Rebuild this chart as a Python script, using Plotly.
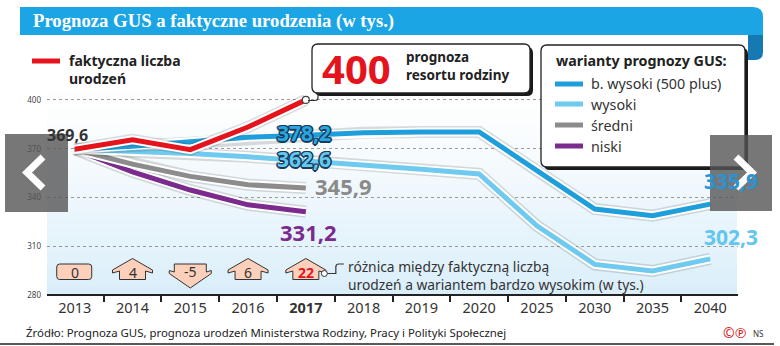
import plotly.graph_objects as go

# ---------------- data ----------------
years = ["2013", "2014", "2015", "2016", "2017", "2018", "2019", "2020", "2025", "2030", "2035", "2040"]
year_labels = ["2013", "2014", "2015", "2016", "<b>2017</b>", "2018", "2019", "2020", "2025", "2030", "2035", "2040"]
faktyczna = [369.6, 375.5, 369.4, 383.3, 400.0]
b_wysoki = [369.6, 371.5, 374.2, 377.0, 378.2, 379.8, 380.3, 380.3, 356.5, 332.9, 328.8, 335.9]
wysoki = [369.6, 368.6, 367.0, 365.0, 362.6, 360.0, 357.4, 354.5, 322.6, 298.9, 294.8, 302.3]
sredni = [369.6, 360.5, 353.0, 347.8, 345.9]
niski = [369.6, 355.8, 344.6, 335.5, 331.2]
roznica = [0, 4, -5, 6, 22]
y_ticks = [280, 310, 340, 370, 400]
variant_names = ["b. wysoki (500 plus)", "wysoki", "średni", "niski"]
prognoza_resortu = 400

# ---------------- styles ----------------
C_RED = "#e5131c"
C_BW = "#1e9fdc"
C_W = "#6ecbef"
C_S = "#8c8c8c"
C_N = "#7b2a8d"
FONT = "Noto Sans"

W, H = 780, 346
ML, MR, MT, MB = 47, 42, 95, 46
PW, PH = W - ML - MR, H - MT - MB
YR = [277, 403]
XR = [-0.48, 11.48]


def X(px):
    return (px - ML) / PW


def Y(py):
    return (H - MB - py) / PH


def cat_px(i):
    return ML + (i - XR[0]) * PW / (XR[1] - XR[0])


def path(pts):
    s = ""
    for p in pts:
        if p[0] == "Z":
            s += " Z"
        elif p[0] == "Q":
            s += f" Q {X(p[1])},{Y(p[2])} {X(p[3])},{Y(p[4])}"
        else:
            s += f" {p[0]} {X(p[1])},{Y(p[2])}"
    return s.strip()


def rrect(x0, y0, x1, y1, r):
    return path([("M", x0 + r, y0), ("L", x1 - r, y0), ("Q", x1, y0, x1, y0 + r),
                 ("L", x1, y1 - r), ("Q", x1, y1, x1 - r, y1), ("L", x0 + r, y1),
                 ("Q", x0, y1, x0, y1 - r), ("L", x0, y0 + r), ("Q", x0, y0, x0 + r, y0), ("Z",)])


shapes = []
annots = []


def shp(d, fill=None, line_color=None, width=0, layer="above"):
    shapes.append(dict(type="path", path=d, xref="paper", yref="paper",
                       fillcolor=fill if fill else "rgba(0,0,0,0)",
                       line=dict(color=line_color if line_color else "rgba(0,0,0,0)", width=width),
                       layer=layer))


def txt(text, px, py, size=13, color="#333", bold=False, xanchor="left", family=FONT, **kw):
    annots.append(dict(text=f"<b>{text}</b>" if bold else text, x=X(px), y=Y(py), xref="paper", yref="paper",
                       xanchor=xanchor, yanchor="middle", showarrow=False, align="left",
                       font=dict(size=size, color=color, family=family), **kw))


fig = go.Figure()

# background gradient
N = 24
top, bot = 92, 295.5
for k in range(N):
    y0 = top + (bot - top) * k / N
    y1 = top + (bot - top) * (k + 1) / N
    t = (k + 0.5) / N
    t = t ** 1.3
    r = int(255 + (217 - 255) * t)
    g = int(255 + (238 - 255) * t)
    b = int(255 + (250 - 255) * t)
    shapes.append(dict(type="rect", xref="paper", yref="paper", x0=X(47), x1=X(737), y0=Y(y1), y1=Y(y0) + 0.002,
                       fillcolor=f"rgb({r},{g},{b})", line=dict(width=0), layer="below"))


def add_line(xs, ys, color, w=4.5):
    fig.add_trace(go.Scatter(x=xs, y=ys, mode="lines", line=dict(color="rgba(40,40,40,0.16)", width=w + 7),
                             hoverinfo="skip", showlegend=False))
    fig.add_trace(go.Scatter(x=xs, y=ys, mode="lines", line=dict(color="white", width=w + 4),
                             hoverinfo="skip", showlegend=False))
    fig.add_trace(go.Scatter(x=xs, y=ys, mode="lines", line=dict(color=color, width=w),
                             hoverinfo="skip", showlegend=False))


add_line(years[:len(niski)], niski, C_N, 5)
add_line(years[:len(sredni)], sredni, C_S, 5)
add_line(years, wysoki, C_W, 5)
add_line(years, b_wysoki, C_BW, 5)
add_line(years[:len(faktyczna)], faktyczna, C_RED, 5)
fig.add_trace(go.Scatter(x=[years[len(faktyczna) - 1]], y=[faktyczna[-1]], mode="markers",
                         marker=dict(size=7, color="white", line=dict(color="#444", width=1.2)),
                         hoverinfo="skip", showlegend=False, cliponaxis=False))


def fmt(v):
    return f"{v:.1f}".replace(".", ",")


def outline(c):
    return (f"1px 1px 0 {c}, -1px -1px 0 {c}, 1px -1px 0 {c}, -1px 1px 0 {c}, "
            f"0 1.5px 0 {c}, 0 -1.5px 0 {c}, 1.5px 0 0 {c}, -1.5px 0 0 {c}")


def dlabel(xi, val, color, size, xshift, yshift, shadow=None):
    f = dict(size=size, color=color, family=FONT)
    if shadow:
        f["shadow"] = shadow
    annots.append(dict(text=f"<b>{fmt(val)}</b>", x=xi, y=val, xref="x", yref="y", showarrow=False,
                       xanchor="center", yanchor="middle", xshift=xshift, yshift=yshift, font=f))


dlabel(0, faktyczna[0], "#333333", 16, -7, 14)
dlabel(4, b_wysoki[4], "#2aa6e0", 21, -2, 2, outline("#173d5c"))
dlabel(4, wysoki[4], "#66c8ef", 21, -2, 2, outline("#173d5c"))
dlabel(4, sredni[4], "#8a8a8a", 22, 38, 2)
dlabel(4, niski[4], C_N, 22, 3, -20)
dlabel(11, b_wysoki[11], "#2b93d3", 21, 21, 23)
dlabel(11, wysoki[11], "#62c6ee", 21, 21, 22)

# ---------------- title bar ----------------
shp(path([("M", 20, 7), ("L", 753, 7), ("Q", 763, 7, 763, 17), ("L", 763, 35), ("L", 20, 35), ("Z",)]), fill="#1ba5e5")
shp(path([("M", 748, 35), ("L", 763, 35), ("L", 763, 52), ("Q", 763, 60, 755, 60), ("L", 748, 60), ("Z",)]), fill="#1679b3")
txt("Prognoza GUS a faktyczne urodzenia (w tys.)", 31, 21, size=18.7, color="white", bold=True, family="Liberation Serif")

# ---------------- left legend ----------------
shp(path([("M", 32, 61), ("L", 60, 61)]), line_color=C_RED, width=5)
txt("faktyczna liczba<br>urodzeń", 67, 70, size=14, color="#222", bold=True)

# ---------------- 400 box ----------------
shp(rrect(315, 47, 533, 96, 6), fill="#1a1a1a")
shp(rrect(312, 44, 530, 93, 6), fill="white", line_color="#222", width=1.3)
txt(str(prognoza_resortu), 356, 68, size=40, color=C_RED, bold=True, xanchor="center")
txt("prognoza<br>resortu rodziny", 404, 66, size=13.5, color="#222", bold=True)
shp(path([("M", 308, 100.5), ("L", 315, 100.5), ("Q", 318, 100.5, 318, 97.5), ("L", 318, 93)]), line_color="#333", width=1.2)

# ---------------- right legend ----------------
shp(rrect(544, 48, 748, 170, 6), fill="#1a1a1a")
shp(rrect(541, 45, 745, 167, 6), fill="white", line_color="#222", width=1.3)
txt("warianty prognozy GUS:", 554, 60, size=14.3, color="#222", bold=True)
for name, col, yy in zip(variant_names, [C_BW, C_W, C_S, C_N], [84, 104, 125, 146]):
    shp(path([("M", 555, yy), ("L", 583, yy)]), line_color=col, width=5)
    txt(name, 589, yy, size=14.3, color="#333")

# ---------------- difference arrows ----------------
for i, d in enumerate(roznica):
    cx = cat_px(i)
    if d == 0:
        shp(rrect(cx - 18, 264, cx + 17, 279.5, 3), fill="#fcd0bb", line_color="#333", width=1)
        ty = 272
    elif d > 0:
        shp(path([("M", cx, 258.5), ("L", cx + 20, 270), ("L", cx + 20, 273), ("L", cx + 13, 271),
                  ("L", cx + 13, 279.5), ("L", cx - 13, 279.5), ("L", cx - 13, 271), ("L", cx - 20, 273),
                  ("L", cx - 20, 270), ("Z",)]), fill="#fcd0bb", line_color="#333", width=1)
        ty = 272.5
    else:
        shp(path([("M", cx - 16, 264), ("L", cx + 16, 264), ("L", cx + 16, 272), ("L", cx + 21, 270.5),
                  ("L", cx + 21, 273.5), ("L", cx, 288), ("L", cx - 21, 273.5), ("L", cx - 21, 270.5),
                  ("L", cx - 16, 272), ("Z",)]), fill="#fcd0bb", line_color="#333", width=1)
        ty = 271.5
    last = i == len(roznica) - 1
    txt(str(d), cx, ty, size=14, color=C_RED if last else "#333", bold=last, xanchor="center")

cx_last = cat_px(len(roznica) - 1)
shp(path([("M", cx_last + 20, 273.5), ("L", cx_last + 30, 273.5), ("L", cx_last + 30, 267),
          ("Q", cx_last + 30, 264, cx_last + 33, 264), ("L", cx_last + 38, 264)]), line_color="#333", width=1.2)
shapes.append(dict(type="circle", xref="paper", yref="paper", x0=X(cx_last + 15.5), x1=X(cx_last + 21.5),
                   y0=Y(276.5), y1=Y(270.5), fillcolor="white", line=dict(color="#333", width=1)))
txt("różnica między faktyczną liczbą<br>urodzeń a wariantem bardzo wysokim (w tys.)", 346, 275.5, size=13.8, color="#333")

# ---------------- footer ----------------
txt("Źródło: Prognoza GUS, prognoza urodzeń Ministerstwa Rodziny, Pracy i Polityki Społecznej", 24, 332,
    size=11.4, color="#222")
shp(path([("M", 0, 344), ("L", 774, 344)]), line_color="#222", width=1.5)
txt("©℗", 721, 332, size=14, color="#d8262a")
txt("NS", 751, 333, size=8, color="#333")

# ---------------- carousel nav overlays ----------------
shp(path([("M", 5, 134), ("L", 68, 134), ("L", 68, 212), ("L", 5, 212), ("Z",)]), fill="rgba(85,85,85,0.8)")
shp(path([("M", 43, 157), ("L", 27, 172.5), ("L", 43, 188)]), line_color="white", width=7)
shp(path([("M", 710, 135), ("L", 772, 135), ("L", 772, 211), ("L", 710, 211), ("Z",)]), fill="rgba(85,85,85,0.8)")
shp(path([("M", 736, 157), ("L", 752, 172.5), ("L", 736, 188)]), line_color="white", width=7)

fig.update_layout(
    width=W, height=H,
    margin=dict(l=ML, r=MR, t=MT, b=MB, pad=0),
    paper_bgcolor="white", plot_bgcolor="rgba(0,0,0,0)",
    showlegend=False, hovermode=False,
    font=dict(family=FONT, color="#333"),
    shapes=shapes, annotations=annots,
    xaxis=dict(type="category", categoryorder="array", categoryarray=years, range=XR,
               tickmode="array", tickvals=years, ticktext=year_labels,
               tickson="boundaries", ticks="outside", ticklen=6, tickwidth=1.5, tickcolor="#222",
               showline=True, linecolor="#222", linewidth=1.5, showgrid=False, zeroline=False,
               tickfont=dict(size=14.5, color="#333", family=FONT),
               anchor="free", position=(280 - YR[0]) / (YR[1] - YR[0])),
    yaxis=dict(range=YR, tickmode="array", tickvals=y_ticks, ticks="", showline=False, zeroline=False,
               showgrid=True, gridcolor="#9a9a9a", griddash="dot", gridwidth=1,
               tickfont=dict(size=8, color="#444", family=FONT), ticklabelstandoff=5),
)

fig.write_html("out.html")
